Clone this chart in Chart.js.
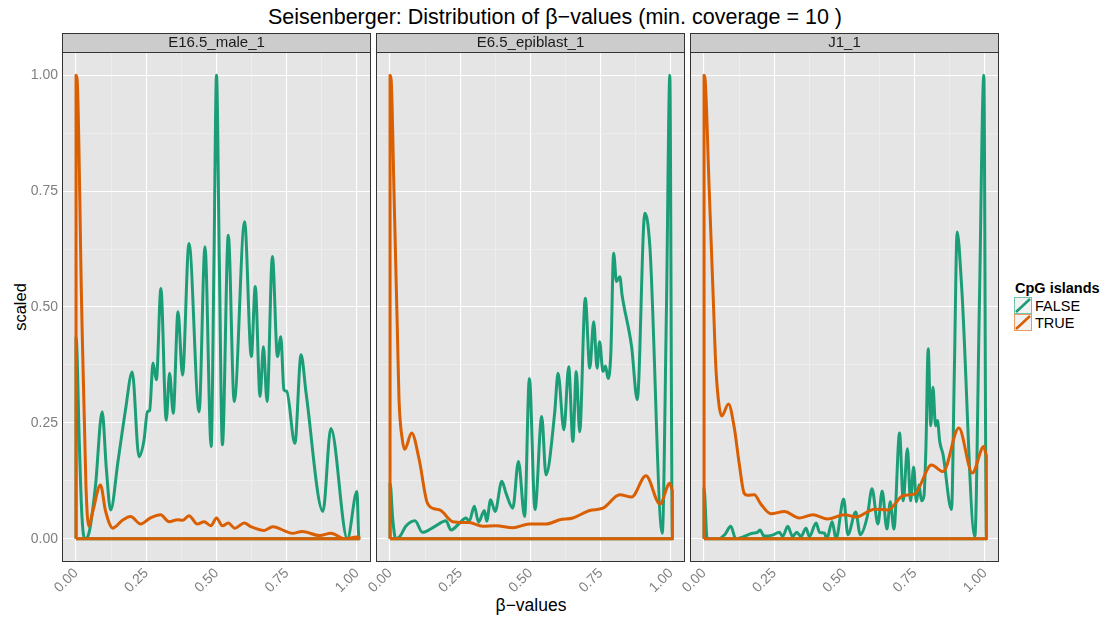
<!DOCTYPE html>
<html lang="en">
<head>
<meta charset="UTF-8">
<title>Seisenberger: Distribution of β-values</title>
<script src="https://cdn.jsdelivr.net/npm/chart.js"></script>
<style>
  body { margin: 0; width: 1110px; height: 621px; background: #fff; position: relative; overflow: hidden;
         font-family: "Liberation Sans", Arial, sans-serif; color: #000; }
  canvas { position: absolute; top: 0; }
  #title { position: absolute; top: 5px; left: 0; width: 1110px; text-align: center; font-size: 21.5px; line-height: 24px; }
  #ylab { position: absolute; left: 20px; top: 307px; font-size: 16.5px; transform: translate(-50%, -50%) rotate(-90deg); white-space: nowrap; }
  #xlab { position: absolute; left: 531px; top: 605px; font-size: 17.5px; transform: translate(-50%, -50%); white-space: nowrap; }
  #legend { position: absolute; left: 1014px; top: 279px; font-size: 14.5px; }
  #legend .ltitle { font-weight: bold; line-height: 18px; margin-left: 1px; }
  #legend .lrow { height: 17px; display: flex; align-items: center; }
  #legend svg { display: block; margin-right: 2px; }
</style>
</head>
<body>
<div id="title">Seisenberger: Distribution of β−values (min. coverage = 10 )</div>
<div id="ylab">scaled</div>
<div id="xlab">β−values</div>
<div id="legend"><div class="ltitle">CpG islands</div></div>
<canvas id="p0"></canvas>
<canvas id="p1"></canvas>
<canvas id="p2"></canvas>

<script>
// facet names, groups, ticks
const panelNames = ["E16.5_male_1", "E6.5_epiblast_1", "J1_1"];
const groupNames = ["FALSE", "TRUE"];
const groupColors = ["#1B9E77", "#D95F02"];
const xTicks = [0, 0.25, 0.5, 0.75, 1];
const yTicks = [0, 0.25, 0.5, 0.75, 1];
const minorTicks = [0.125, 0.375, 0.625, 0.875];

// scaled density curves, [beta, scaled]
const maleFalse = [[0,0.435],[0.012,0.2],[0.02,0.06],[0.03,0],[0.045,0.01],[0.069,0.113],[0.093,0.274],[0.108,0.15],[0.123,0.062],
  [0.15,0.17],[0.176,0.278],[0.2,0.36],[0.224,0.177],[0.242,0.213],[0.254,0.274],[0.262,0.277],[0.274,0.379],[0.286,0.343],
  [0.302,0.54],[0.321,0.256],[0.333,0.357],[0.346,0.271],[0.363,0.49],[0.379,0.353],[0.402,0.637],[0.438,0.274],[0.459,0.63],
  [0.481,0.199],[0.491,0.6],[0.5,1],[0.51,0.6],[0.521,0.203],[0.542,0.655],[0.563,0.296],[0.6,0.684],[0.624,0.393],[0.638,0.544],
  [0.655,0.307],[0.667,0.414],[0.68,0.296],[0.699,0.609],[0.717,0.393],[0.729,0.436],[0.74,0.321],[0.75,0.318],[0.779,0.206],
  [0.801,0.397],[0.819,0.314],[0.879,0.059],[0.907,0.238],[0.966,0],[1,0.102],[1.007,0]];
const maleTrue = [[0,1],[0.004,0.99],[0.02,0.5],[0.035,0.12],[0.045,0.027],[0.06,0.06],[0.087,0.116],[0.105,0.06],[0.131,0.023],
  [0.165,0.04],[0.194,0.048],[0.23,0.032],[0.265,0.045],[0.301,0.052],[0.331,0.037],[0.361,0.041],[0.38,0.04],[0.402,0.05],
  [0.432,0.032],[0.456,0.037],[0.48,0.028],[0.5,0.045],[0.521,0.028],[0.542,0.034],[0.565,0.023],[0.599,0.034],[0.623,0.026],
  [0.67,0.018],[0.7,0.026],[0.771,0.012],[0.805,0.016],[0.867,0.007],[0.908,0.012],[0.956,0],[1,0.004],[1.007,0.004]];

const epiFalse = [[0,0.12],[0.01,0.04],[0.02,0],[0.035,0.005],[0.056,0.027],[0.089,0.039],[0.115,0.014],[0.16,0.027],[0.199,0.039],
  [0.217,0.019],[0.246,0.033],[0.27,0.045],[0.282,0.038],[0.3,0.07],[0.315,0.036],[0.336,0.061],[0.344,0.038],[0.358,0.084],
  [0.374,0.059],[0.398,0.124],[0.413,0.098],[0.437,0.066],[0.457,0.167],[0.479,0.048],[0.496,0.346],[0.516,0.063],[0.54,0.264],
  [0.555,0.138],[0.586,0.271],[0.598,0.357],[0.619,0.235],[0.636,0.371],[0.651,0.21],[0.663,0.361],[0.675,0.231],[0.695,0.519],
  [0.711,0.368],[0.725,0.468],[0.737,0.368],[0.746,0.425],[0.758,0.361],[0.767,0.373],[0.776,0.346],[0.786,0.4],[0.796,0.616],
  [0.806,0.555],[0.818,0.565],[0.826,0.526],[0.86,0.414],[0.88,0.3],[0.907,0.702],[0.925,0.63],[0.969,0.012],[0.984,0.5],
  [0.996,1],[1.005,0]];
const epiTrue = [[0,1],[0.004,0.99],[0.014,0.75],[0.026,0.45],[0.032,0.3],[0.044,0.213],[0.052,0.193],[0.077,0.228],[0.104,0.17],
  [0.133,0.077],[0.163,0.064],[0.181,0.061],[0.223,0.037],[0.282,0.035],[0.33,0.027],[0.377,0.028],[0.437,0.024],[0.496,0.032],
  [0.556,0.032],[0.604,0.041],[0.651,0.045],[0.711,0.061],[0.758,0.066],[0.818,0.095],[0.86,0.09],[0.911,0.136],[0.961,0.075],
  [0.996,0.12],[1.005,0.105]];

const j1False = [[0,0.109],[0.011,0],[0.05,0],[0.075,0.01],[0.095,0.027],[0.113,0],[0.172,0.012],[0.19,0.014],[0.199,0.019],
  [0.214,0.006],[0.244,0.008],[0.268,0.014],[0.28,0.005],[0.298,0.027],[0.315,0.005],[0.33,0.014],[0.345,0.005],[0.363,0.023],
  [0.375,0.005],[0.399,0.034],[0.411,0.014],[0.429,0.012],[0.437,0],[0.456,0.037],[0.47,0],[0.497,0.086],[0.512,0.009],
  [0.54,0.058],[0.556,0.009],[0.581,0.048],[0.598,0.108],[0.619,0.032],[0.634,0.103],[0.651,0.021],[0.663,0.08],[0.676,0.021],
  [0.696,0.228],[0.709,0.082],[0.724,0.194],[0.735,0.082],[0.746,0.155],[0.756,0.08],[0.765,0.116],[0.774,0.082],[0.783,0.093],
  [0.79,0.2],[0.798,0.41],[0.807,0.244],[0.815,0.327],[0.824,0.244],[0.831,0.255],[0.839,0.21],[0.851,0.181],[0.881,0.063],
  [0.891,0.36],[0.901,0.662],[0.917,0.544],[0.964,0.005],[0.98,0.5],[0.996,1],[1.005,0]];
const j1True = [[0,1],[0.004,0.99],[0.018,0.76],[0.033,0.515],[0.042,0.371],[0.054,0.285],[0.063,0.265],[0.087,0.291],[0.107,0.242],
  [0.125,0.163],[0.143,0.098],[0.155,0.094],[0.179,0.095],[0.202,0.075],[0.238,0.054],[0.286,0.059],[0.339,0.045],[0.387,0.052],
  [0.44,0.043],[0.5,0.052],[0.542,0.047],[0.607,0.064],[0.655,0.062],[0.708,0.093],[0.75,0.097],[0.81,0.159],[0.851,0.145],
  [0.907,0.239],[0.955,0.142],[0.996,0.199],[1.005,0.18]];

const panelData = [[maleFalse, maleTrue], [epiFalse, epiTrue], [j1False, j1True]];

// layout of the facets (pixels)
const areaLeft = [62, 376, 690];
const areaWidth = 309;
const areaTop = 52;
const areaBottom = 562;
const marginLeft = [62, 45, 45];
const marginRight = 3;
const H = 621;

Chart.defaults.font.family = '"Liberation Sans", Arial, sans-serif';

// closed outline like geom_density: baseline, up the left side, curve, down the right side
function outline(arr) {
  const pts = arr.map(([x, y]) => ({ x: x, y: y }));
  const x0 = arr[0][0], x1 = arr[arr.length - 1][0];
  return [{ x: x0, y: 0 }, ...pts, { x: x1, y: 0 }, { x: x0, y: 0 }];
}

const isMinor = v => minorTicks.includes(v);

// grey panel, border and strip on top
const facetStrip = {
  id: 'facetStrip',
  beforeDraw(chart) {
    const { ctx, chartArea: a } = chart;
    ctx.save();
    ctx.fillStyle = '#E5E5E5';
    ctx.fillRect(a.left, a.top, a.right - a.left, a.bottom - a.top);
    ctx.restore();
  },
  afterDraw(chart, args, opts) {
    const { ctx, chartArea: a } = chart;
    ctx.save();
    ctx.strokeStyle = '#333333';
    ctx.lineWidth = 1;
    ctx.strokeRect(a.left + 0.5, a.top + 0.5, a.right - a.left - 1, a.bottom - a.top - 1);
    ctx.fillStyle = '#CCCCCC';
    ctx.fillRect(a.left, a.top - 19, a.right - a.left, 19);
    ctx.strokeRect(a.left + 0.5, a.top - 18.5, a.right - a.left - 1, 19);
    ctx.fillStyle = '#1A1A1A';
    ctx.font = '15px "Liberation Sans", Arial, sans-serif';
    ctx.textAlign = 'center';
    ctx.textBaseline = 'middle';
    ctx.fillText(opts.label, (a.left + a.right) / 2, a.top - 9);
    ctx.restore();
  }
};

function makePanel(i) {
  const cv = document.getElementById('p' + i);
  const w = marginLeft[i] + areaWidth + marginRight;
  cv.width = w;
  cv.height = H;
  cv.style.left = (areaLeft[i] - marginLeft[i]) + 'px';

  const [falseData, trueData] = panelData[i];
  const gridOpts = {
    color: ctx => isMinor(ctx.tick.value) ? '#F2F2F2' : '#FFFFFF',
    lineWidth: ctx => isMinor(ctx.tick.value) ? 0.6 : 1.1,
    drawTicks: false
  };

  return new Chart(cv, {
    type: 'scatter',
    data: {
      datasets: [
        { label: groupNames[1], data: outline(trueData), borderColor: groupColors[1], order: 0 },
        { label: groupNames[0], data: outline(falseData), borderColor: groupColors[0], order: 1 }
      ]
    },
    options: {
      responsive: false,
      animation: false,
      showLine: true,
      layout: { padding: { top: areaTop, right: marginRight, left: 0, bottom: 0 } },
      elements: {
        point: { radius: 0, hoverRadius: 0 },
        line: { borderWidth: 3, cubicInterpolationMode: 'monotone', borderJoinStyle: 'round', fill: false }
      },
      plugins: {
        legend: { display: false },
        tooltip: { enabled: false },
        facetStrip: { label: panelNames[i] }
      },
      scales: {
        x: {
          type: 'linear', min: -0.05, max: 1.05,
          afterBuildTicks: s => { s.ticks = [...xTicks, ...minorTicks].sort((a, b) => a - b).map(v => ({ value: v })); },
          afterFit: s => { s.height = H - areaBottom; },
          ticks: {
            autoSkip: false, minRotation: 45, maxRotation: 45, padding: 3,
            color: '#7F7F7F', font: { size: 14 },
            callback: v => isMinor(v) ? '' : v.toFixed(2)
          },
          grid: gridOpts,
          border: { display: false }
        },
        y: {
          type: 'linear', min: -0.05, max: 1.05,
          afterBuildTicks: s => { s.ticks = [...yTicks, ...minorTicks].sort((a, b) => a - b).map(v => ({ value: v })); },
          afterFit: s => { s.width = marginLeft[i]; },
          ticks: {
            display: i === 0, autoSkip: false, padding: 4,
            color: '#7F7F7F', font: { size: 14 },
            callback: v => isMinor(v) ? '' : v.toFixed(2)
          },
          grid: gridOpts,
          border: { display: false }
        }
      }
    },
    plugins: [facetStrip]
  });
}

panelNames.forEach((n, i) => makePanel(i));

// legend keys
const legend = document.getElementById('legend');
groupNames.forEach((g, k) => {
  const row = document.createElement('div');
  row.className = 'lrow';
  const c = groupColors[k];
  row.innerHTML = '<svg width="19" height="17"><rect x="0.5" y="0.5" width="17" height="16" fill="#F2F2F2" stroke="' + c +
    '" stroke-opacity="0.6"/><line x1="2" y1="15" x2="16" y2="2" stroke="' + c + '" stroke-width="2.6"/></svg><span>' + g + '</span>';
  legend.appendChild(row);
});
</script>
</body>
</html>
